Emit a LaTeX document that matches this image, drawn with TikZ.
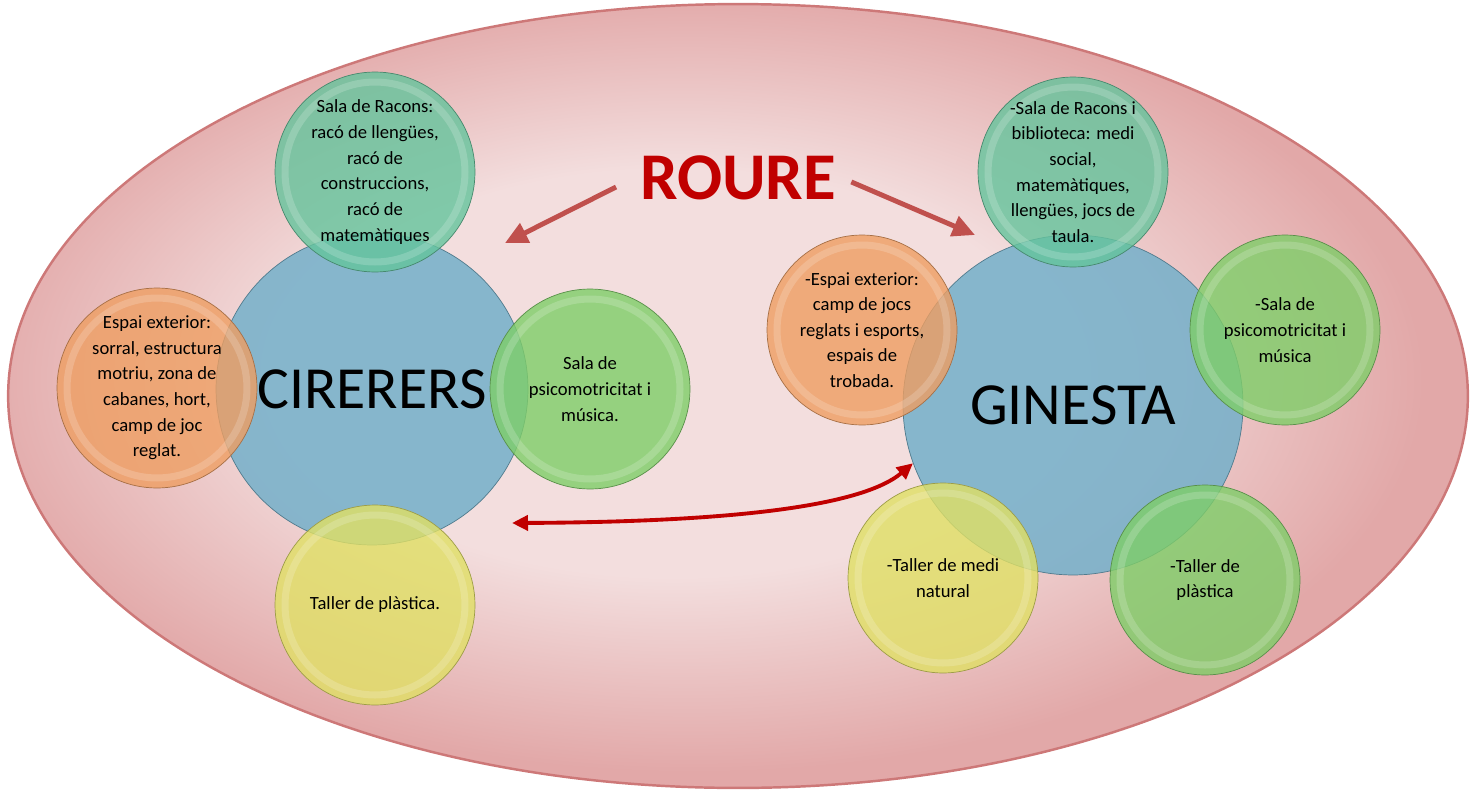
\documentclass[tikz,border=0pt]{standalone}
\usepackage{fontspec}
\setmainfont{Carlito}
\usetikzlibrary{positioning,arrows.meta}

\definecolor{pinklight}{RGB}{243,222,222}
\definecolor{pinkdark}{RGB}{226,168,168}
\definecolor{pinkline}{RGB}{205,120,120}
\definecolor{hubblue}{RGB}{116,176,202}
\definecolor{teal}{RGB}{100,196,156}
\definecolor{leaf}{RGB}{126,206,104}
\definecolor{peach}{RGB}{238,158,98}
\definecolor{lemon}{RGB}{224,224,100}
\definecolor{roured}{RGB}{192,0,0}
\definecolor{rosearrow}{RGB}{192,80,77}

\pgfdeclareradialshading{ovalshade}{\pgfpoint{-3bp}{2bp}}{%
  color(0bp)=(pinklight); color(13bp)=(pinklight); color(25bp)=(pinkdark); color(50bp)=(pinkdark)}

\tikzset{
  hub/.style={circle, draw=#1!70!black, fill=#1, fill opacity=0.85, text opacity=1,
    font=\fontsize{34}{40}\selectfont, inner sep=0pt},
  spoke/.style n args={2}{circle, draw=#1!70!black, fill=#1, fill opacity=0.8, text opacity=1,
    align=center, font=\fontsize{10.6}{14.6}\selectfont, inner sep=0pt,
    path picture={\draw[white, opacity=0.18, line width=4pt]
      (path picture bounding box.center) circle (#2);}},
  pointer/.style={draw=rosearrow, line width=2.8pt, -{Triangle[length=0.45cm,width=0.42cm]}},
  link/.style={draw=roured, line width=2.2pt, {Triangle[length=0.32cm,width=0.3cm]}-{Triangle[length=0.32cm,width=0.3cm]}}
}

\begin{document}
\begin{tikzpicture}[x=0.02cm,y=-0.02cm]
\useasboundingbox (0,0) rectangle (1470,791);

% big ellipse
\shade[shading=ovalshade, draw=pinkline, line width=1.4pt]
  (738,396) ellipse [x radius=14.6cm, y radius=7.84cm];

\node[text=roured, font=\fontsize{38}{44}\bfseries\selectfont] (roure) at (738,178) {ROURE};
\coordinate (cirtip) at (505,243);
\coordinate (gintip) at (975,235);

% hubs
\node[hub=hubblue, minimum size=6.24cm] (cir) at (372,389) {CIRERERS};
\node[hub=hubblue, minimum size=6.8cm] (gin) at (1073,405) {GINESTA};

% cirerers
\node[spoke={teal}{1.8cm}, minimum size=4cm] (racons) at (375,172)
  {Sala de Racons:\\racó de llengües,\\racó de\\construccions,\\racó de\\matemàtiques};
\node[spoke={peach}{1.8cm}, minimum size=4cm] (exterior) at (157,388)
  {Espai exterior:\\sorral, estructura\\motriu, zona de\\cabanes, hort,\\camp de joc\\reglat.};
\node[spoke={leaf}{1.8cm}, minimum size=4cm] (psico) at (590,389)
  {Sala de\\psicomotricitat i\\música.};
\node[spoke={lemon}{1.8cm}, minimum size=4cm] (plastica) at (375,605)
  {Taller de plàstica.};

% ginesta
\node[spoke={teal}{1.7cm}, minimum size=3.8cm] (ginracons) at (1073,172)
  {-Sala de Racons i\\biblioteca: medi\\social,\\matemàtiques,\\llengües, jocs de\\taula.};
\node[spoke={peach}{1.7cm}, minimum size=3.8cm] (ginexterior) at (862,330)
  {-Espai exterior:\\camp de jocs\\reglats i esports,\\espais de\\trobada.};
\node[spoke={leaf}{1.7cm}, minimum size=3.8cm] (ginpsico) at (1285,330)
  {-Sala de\\psicomotricitat i\\música};
\node[spoke={lemon}{1.7cm}, minimum size=3.8cm] (ginmedi) at (943,578)
  {-Taller de medi\\natural};
\node[spoke={leaf}{1.7cm}, minimum size=3.8cm] (ginplastica) at (1205,580)
  {-Taller de\\plàstica};

\draw[pointer, shorten <=0.4cm] (roure.west) -- (cirtip);
\draw[pointer, shorten <=0.2cm] (roure.east) -- (gintip);

\coordinate (cirlink) at (512,523);
\draw[link] (cirlink) .. controls (720,522) and (860,508) .. (gin.200);

\end{tikzpicture}
\end{document}
